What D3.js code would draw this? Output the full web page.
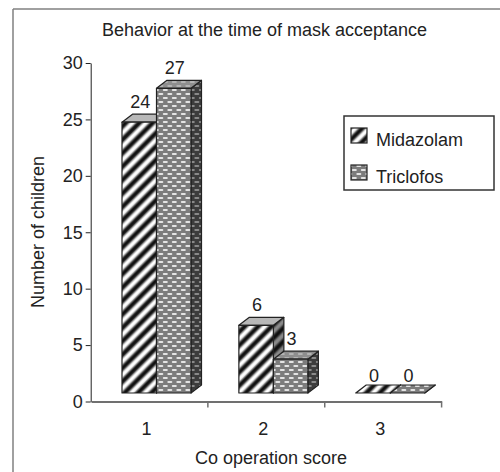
<!DOCTYPE html>
<html>
<head>
<meta charset="utf-8">
<script src="https://cdn.jsdelivr.net/npm/d3@7"></script>
<style>
  html, body { margin: 0; padding: 0; background: #fff; }
  svg { display: block; font-family: "Liberation Sans", Arial, sans-serif; }
</style>
</head>
<body>
<svg id="chart" width="500" height="472"></svg>
<script>
// ---- data ----
const title = "Behavior at the time of mask acceptance";
const categories = ["1", "2", "3"];
const seriesNames = ["Midazolam", "Triclofos"];
const midazolam = [24, 6, 0];
const triclofos = [27, 3, 0];
const yTicks = [0, 5, 10, 15, 20, 25, 30];
const xTitle = "Co operation score";
const yTitle = "Number of children";

// ---- layout ----
const svg = d3.select("#chart");
const x = d3.scaleBand().domain(categories).range([91, 441.6]).padding(0);
const y = d3.scaleLinear().domain([0, 30]).range([401.5, 63]);
const barW = 34.5, groupOff = 31, depthX = 10.5, depthY = 8, frontLift = 8.5;
const textCol = "#222";
const fs = 18;

// ---- patterns ----
const defs = svg.append("defs");
function stripePattern(id, light, dark) {
  const gid = id + "Grad";
  const gr = defs.append("linearGradient").attr("id", gid)
    .attr("x1", 0).attr("x2", 1).attr("y1", 0).attr("y2", 0);
  [[0, light], [0.12, light], [0.4, dark], [0.62, dark], [0.9, light], [1, light]]
    .forEach(([o, c]) => gr.append("stop").attr("offset", o).attr("stop-color", c));
  const p = defs.append("pattern").attr("id", id)
    .attr("patternUnits", "userSpaceOnUse").attr("width", 9.5).attr("height", 9.5)
    .attr("patternTransform", "rotate(45)");
  p.append("rect").attr("width", 9.5).attr("height", 9.5).attr("fill", `url(#${gid})`);
}
function dashPattern(id, bg, fg) {
  const p = defs.append("pattern").attr("id", id)
    .attr("patternUnits", "userSpaceOnUse").attr("width", 9).attr("height", 8);
  p.append("rect").attr("width", 9).attr("height", 8).attr("fill", bg);
  [[0.8, 1], [5.3, 5], [-3.7, 5]].forEach(([dx, dy]) => {
    p.append("rect").attr("x", dx).attr("y", dy).attr("width", 5).attr("height", 2)
      .attr("rx", 1).attr("fill", fg);
  });
}
stripePattern("midFront", "#ffffff", "#111111");
stripePattern("midSide", "#8a8a8a", "#111111");
dashPattern("triFront", "#7c7c7c", "#e4e4e4");
dashPattern("triSide", "#3c3c3c", "#8a8a8a");
dashPattern("triTop", "#8e8e8e", "#b4b4b4");

const styles = [
  { front: "url(#midFront)", side: "url(#midSide)", top: "#b8b8b8" },
  { front: "url(#triFront)", side: "url(#triSide)", top: "url(#triTop)" }
];

// ---- frame ----
svg.append("line").attr("x1", 13).attr("x2", 500).attr("y1", 9).attr("y2", 9)
  .attr("stroke", "#808080").attr("stroke-width", 1.5);
svg.append("line").attr("x1", 13).attr("x2", 13).attr("y1", 9).attr("y2", 472)
  .attr("stroke", "#808080").attr("stroke-width", 1.5);

// ---- title ----
svg.append("text").attr("x", 264.5).attr("y", 36).attr("text-anchor", "middle")
  .attr("font-size", fs).attr("fill", textCol).text(title);

// ---- y axis ----
const yAxis = svg.append("g").attr("transform", "translate(90.7,0)")
  .call(d3.axisLeft(y).tickValues(yTicks).tickSize(5).tickSizeOuter(0).tickPadding(3));
yAxis.select(".domain").attr("stroke", "#222");
yAxis.selectAll(".tick line").attr("stroke", "#222");
yAxis.selectAll(".tick text").attr("font-size", fs).attr("fill", textCol)
  .attr("font-family", "Liberation Sans, Arial, sans-serif");

// ---- x axis ----
const xAxis = svg.append("g").attr("transform", `translate(0,${y(0)})`)
  .call(d3.axisBottom(x).tickSize(0).tickPadding(21));
xAxis.select(".domain").attr("stroke", "#707070").attr("stroke-width", 2);
xAxis.selectAll(".tick text").attr("font-size", fs).attr("fill", textCol)
  .attr("font-family", "Liberation Sans, Arial, sans-serif").attr("dx", -3);
const bounds = categories.map(c => x(c)).concat([x.range()[1]]);
xAxis.selectAll(".bound").data(bounds.slice(1)).join("line").attr("class", "bound")
  .attr("x1", d => d).attr("x2", d => d).attr("y1", 0).attr("y2", 6)
  .attr("stroke", "#707070").attr("stroke-width", 1.5);

// ---- axis titles ----
svg.append("text").attr("x", 271).attr("y", 464).attr("text-anchor", "middle")
  .attr("font-size", fs).attr("fill", textCol).text(xTitle);
svg.append("text").attr("transform", "translate(44,232) rotate(-90)")
  .attr("text-anchor", "middle").attr("font-size", fs).attr("fill", textCol).text(yTitle);

// ---- 3D bars ----
const series = [midazolam, triclofos];
const barsG = svg.append("g");
categories.forEach((c, ci) => {
  series.forEach((vals, si) => {
    const v = vals[ci];
    const x0 = x(c) + groupOff + si * barW;
    const x1 = x0 + barW;
    const yT = y(v) - frontLift;
    const yB = y(0) - frontLift;
    const st = styles[si];
    const g = barsG.append("g").attr("stroke", "#222").attr("stroke-width", 1.2)
      .attr("stroke-linejoin", "round");
    g.append("path").attr("fill", st.side)
      .attr("d", `M${x1},${yT}L${x1 + depthX},${yT - depthY}L${x1 + depthX},${yB - depthY}L${x1},${yB}Z`);
    g.append("path").attr("fill", v === 0 ? st.front : st.top)
      .attr("d", `M${x0},${yT}L${x0 + depthX},${yT - depthY}L${x1 + depthX},${yT - depthY}L${x1},${yT}Z`);
    if (yB - yT > 0) {
      g.append("rect").attr("x", x0).attr("y", yT).attr("width", barW).attr("height", yB - yT)
        .attr("fill", st.front);
    }
  });
});
// value labels
categories.forEach((c, ci) => {
  series.forEach((vals, si) => {
    const v = vals[ci];
    const x0 = x(c) + groupOff + si * barW;
    svg.append("text").attr("x", x0 + barW / 2 + 1).attr("y", y(v) - frontLift - (v === 0 ? 11 : 14))
      .attr("text-anchor", "middle").attr("font-size", fs).attr("fill", textCol).text(v);
  });
});

// ---- legend ----
const lg = svg.append("g");
lg.append("rect").attr("x", 344).attr("y", 116).attr("width", 150).attr("height", 74)
  .attr("fill", "#fff").attr("stroke", "#333").attr("stroke-width", 1.5);
seriesNames.forEach((name, i) => {
  const yy = 128 + i * 37;
  lg.append("rect").attr("x", 351).attr("y", yy).attr("width", 16).attr("height", 15)
    .attr("fill", styles[i].front).attr("stroke", "#222").attr("stroke-width", 1.2);
  lg.append("text").attr("x", 376).attr("y", yy + 18).attr("font-size", fs)
    .attr("fill", textCol).text(name);
});
</script>
</body>
</html>
